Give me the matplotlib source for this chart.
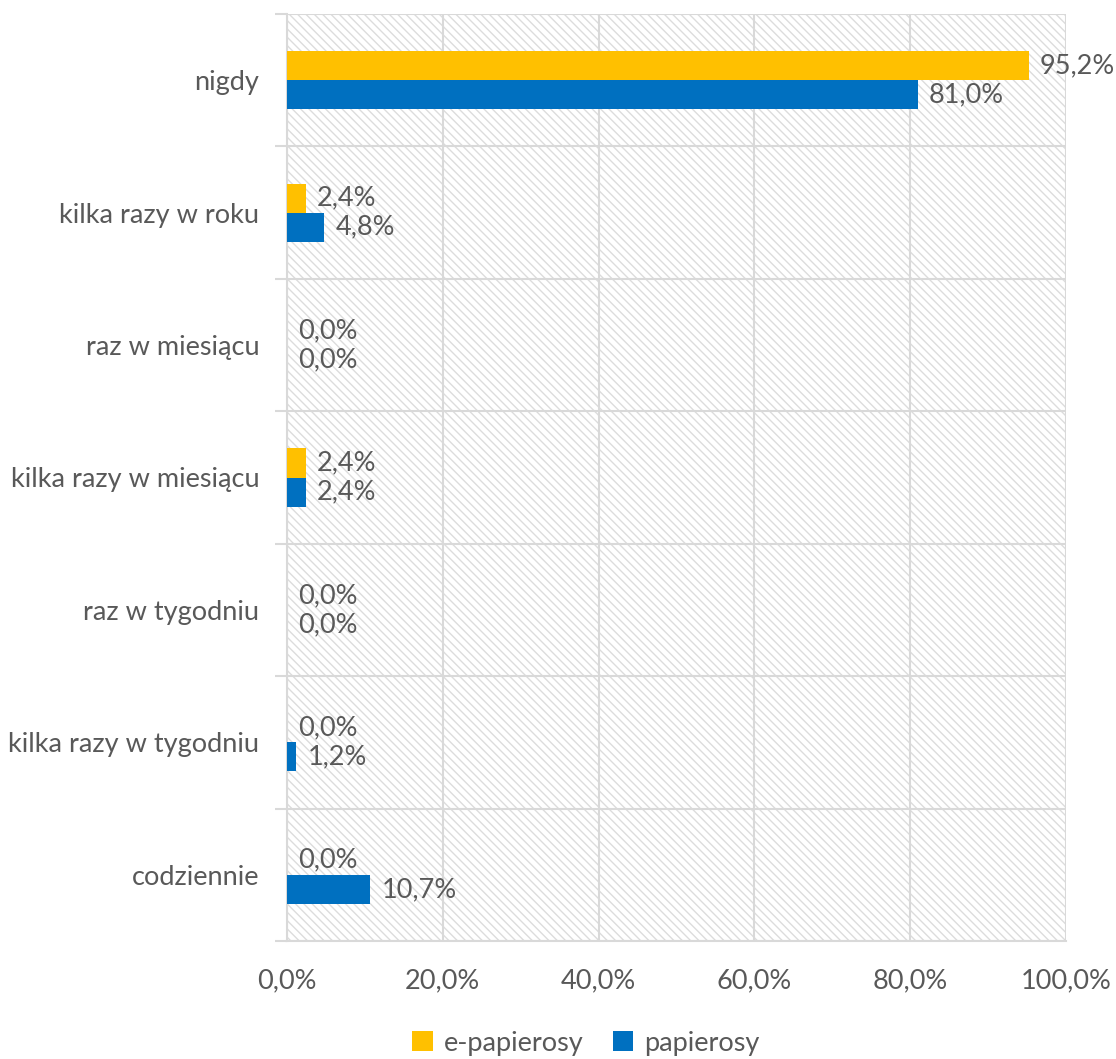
import matplotlib
matplotlib.use("Agg")
import matplotlib.pyplot as plt
import numpy as np
from matplotlib.patches import Rectangle, Patch

plt.rcParams['font.family'] = ['Lato', 'DejaVu Sans']
plt.rcParams['hatch.linewidth'] = 1.0

categories = ["nigdy", "kilka razy w roku", "raz w miesiącu", "kilka razy w miesiącu",
              "raz w tygodniu", "kilka razy w tygodniu", "codziennie"]
e_papierosy = [95.2, 2.4, 0.0, 2.4, 0.0, 0.0, 0.0]
papierosy = [81.0, 4.8, 0.0, 2.4, 0.0, 1.2, 10.7]
series_names = ["e-papierosy", "papierosy"]
xticks = [0, 20, 40, 60, 80, 100]

YELLOW = "#FFC000"
BLUE = "#0070C0"
GRID = "#D9D9D9"
TXT = "#595959"
FS = 19.5

fig = plt.figure(figsize=(11.16, 10.59), dpi=100)
ax = fig.add_axes([287/1116, 1-941/1059, (1066-287)/1116, (941-14)/1059])

ax.add_patch(Rectangle((0, 0), 1, 1, transform=ax.transAxes, facecolor="white",
                       edgecolor="#DCDCDC", hatch='\\\\\\\\', linewidth=0, zorder=0))

y = np.arange(len(categories))
h = 0.22
ax.barh(y - h/2, e_papierosy, height=h, color=YELLOW, zorder=3)
ax.barh(y + h/2, papierosy, height=h, color=BLUE, zorder=3)

def fmt(v):
    return f"{v:.1f}%".replace(".", ",")

for yi, v in zip(y - h/2, e_papierosy):
    ax.annotate(fmt(v), (v, yi), xytext=(8, 0), textcoords="offset points",
                va="center", ha="left", fontsize=FS, color=TXT, zorder=4)
for yi, v in zip(y + h/2, papierosy):
    ax.annotate(fmt(v), (v, yi), xytext=(8, 0), textcoords="offset points",
                va="center", ha="left", fontsize=FS, color=TXT, zorder=4)

ax.set_xlim(0, 100)
ax.set_ylim(len(categories) - 0.5, -0.5)
ax.set_xticks(xticks)
ax.set_xticklabels([fmt(t) for t in xticks], fontsize=FS, color=TXT)
ax.set_yticks(y)
ax.set_yticklabels(categories, fontsize=FS, color=TXT)
ax.set_yticks(np.arange(-0.5, len(categories)), minor=True)
ax.tick_params(axis='y', which='major', length=0, pad=20)
ax.tick_params(axis='y', which='minor', length=8.6, color=GRID, width=1.5, direction='out')
ax.tick_params(axis='x', which='major', length=0, pad=20)
ax.grid(True, axis='x', which='major', color=GRID, linewidth=1.5, zorder=1)
ax.grid(True, axis='y', which='minor', color=GRID, linewidth=1.5, zorder=1)
ax.set_axisbelow(True)
for s in ['top', 'right']:
    ax.spines[s].set_visible(False)
for s in ['left', 'bottom']:
    ax.spines[s].set_color(GRID)
    ax.spines[s].set_linewidth(1.5)

handles = [Patch(facecolor=YELLOW, edgecolor='none'), Patch(facecolor=BLUE, edgecolor='none')]
fig.legend(handles, series_names, loc='center', bbox_to_anchor=(0.525, 1-1043/1059),
           ncol=2, frameon=False, fontsize=FS, labelcolor=TXT,
           handlelength=0.75, handleheight=0.75, handletextpad=0.4, columnspacing=1.1)

fig.savefig("out.png", dpi=100)
